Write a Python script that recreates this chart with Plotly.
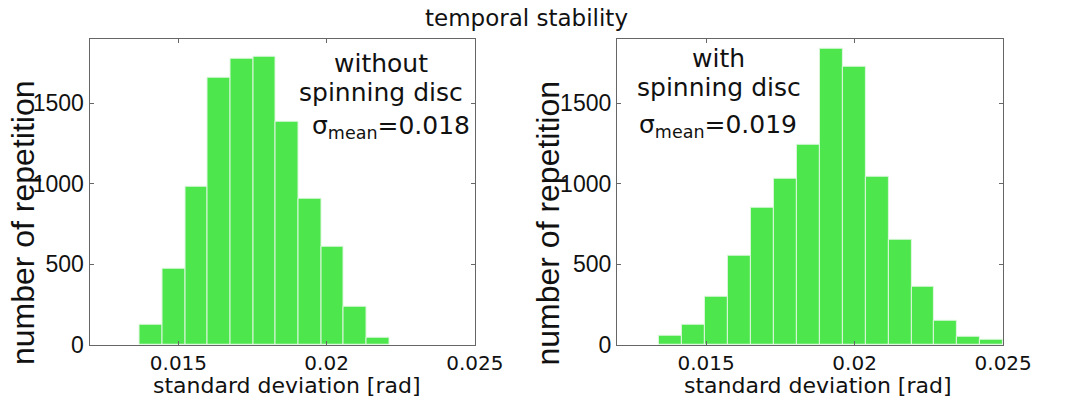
import plotly.graph_objects as go

# ---- data ----
left_counts = [124, 469, 983, 1658, 1775, 1787, 1382, 908, 606, 239, 46]
left_bin_start = 0.01369
left_bin_width = 0.000766

right_counts = [56, 124, 297, 551, 852, 1029, 1239, 1835, 1728, 1043, 654, 361, 152, 48, 30]
right_bin_start = 0.01342
right_bin_width = 0.000772

x_tick_vals = [0.015, 0.02, 0.025]
x_tick_text = ["0.015", "0.02", "0.025"]
y_tick_vals = [0, 500, 1000, 1500]
y_tick_text = ["0", "500", "1000", "1500"]

title_text = "temporal stability"
x_title = "standard deviation [rad]"
y_title = "number of repetition"
left_label = ["without", "spinning disc", "σ<sub>mean</sub>=0.018"]
right_label = ["with", "spinning disc", "σ<sub>mean</sub>=0.019"]

W, H = 1075, 412
GREEN = "#4de64d"
EDGE = "#dff7df"
AXIS = "#666666"
TXT = "#111111"


def centers(start, width, n):
    return [start + width * (i + 0.5) for i in range(n)]


fig = go.Figure()
fig.add_trace(go.Bar(
    x=centers(left_bin_start, left_bin_width, len(left_counts)), y=left_counts,
    width=left_bin_width, marker=dict(color=GREEN, line=dict(color=EDGE, width=1)),
    xaxis="x", yaxis="y", showlegend=False))
fig.add_trace(go.Bar(
    x=centers(right_bin_start, right_bin_width, len(right_counts)), y=right_counts,
    width=right_bin_width, marker=dict(color=GREEN, line=dict(color=EDGE, width=1)),
    xaxis="x2", yaxis="y2", showlegend=False))

def px(x):
    return x / W

def py(y):
    return 1 - y / H

xaxis_common = dict(
    range=[0.012, 0.025], tickvals=x_tick_vals, ticktext=x_tick_text,
    showgrid=False, zeroline=False, showline=True, linecolor=AXIS, linewidth=1,
    mirror="ticks", ticks="inside", ticklen=4, tickcolor=AXIS,
    tickfont=dict(family="DejaVu Sans", size=20, color=TXT),
)
yaxis_common = dict(
    range=[0, 1900], tickvals=y_tick_vals, ticktext=y_tick_text,
    showgrid=False, zeroline=False, showline=True, linecolor=AXIS, linewidth=1,
    mirror="ticks", ticks="inside", ticklen=4, tickcolor=AXIS,
    tickfont=dict(family="Liberation Sans, Arial", size=23, color=TXT),
)

top, bottom = 40, 356
fig.update_layout(
    width=W, height=H, autosize=False,
    margin=dict(l=0, r=0, t=0, b=0, pad=0),
    paper_bgcolor="white", plot_bgcolor="white",
    bargap=0,
    xaxis=dict(domain=[px(92), px(488)], anchor="y", **xaxis_common),
    yaxis=dict(domain=[py(bottom), py(top)], anchor="x", **yaxis_common),
    xaxis2=dict(domain=[px(634), px(1031)], anchor="y2", **xaxis_common),
    yaxis2=dict(domain=[py(bottom), py(top)], anchor="x2", **yaxis_common),
)

ann = []
ann.append(dict(text=title_text, x=px(541), y=py(19), xref="paper", yref="paper",
                showarrow=False, xanchor="center", yanchor="middle",
                font=dict(family="DejaVu Sans", size=23, color=TXT)))
for xc in (294, 840):
    ann.append(dict(text=x_title, x=px(xc), y=py(398), xref="paper", yref="paper",
                    showarrow=False, xanchor="center", yanchor="middle",
                    font=dict(family="DejaVu Sans", size=22, color=TXT)))
for xc in (23, 563):
    ann.append(dict(text=y_title, x=px(xc), y=py(230), xref="paper", yref="paper",
                    showarrow=False, xanchor="center", yanchor="middle", textangle=-90,
                    font=dict(family="Liberation Sans, Arial", size=32, color=TXT)))
left_pos = [(392, 66), (392, 95), (402, 131)]
right_pos = [(738, 60), (739, 90), (738, 130)]
for lines, pos in ((left_label, left_pos), (right_label, right_pos)):
    for t, (xc, yc) in zip(lines, pos):
        ann.append(dict(text=t, x=px(xc), y=py(yc), xref="paper", yref="paper",
                        showarrow=False, xanchor="center", yanchor="middle",
                        font=dict(family="DejaVu Sans", size=25, color=TXT)))

fig.update_layout(annotations=ann)

fix_page = """
document.body.style.margin='0';
document.body.style.padding='0';
document.documentElement.style.overflow='hidden';
document.body.style.overflow='hidden';
"""
fig.write_html("out.html", post_script=fix_page)
